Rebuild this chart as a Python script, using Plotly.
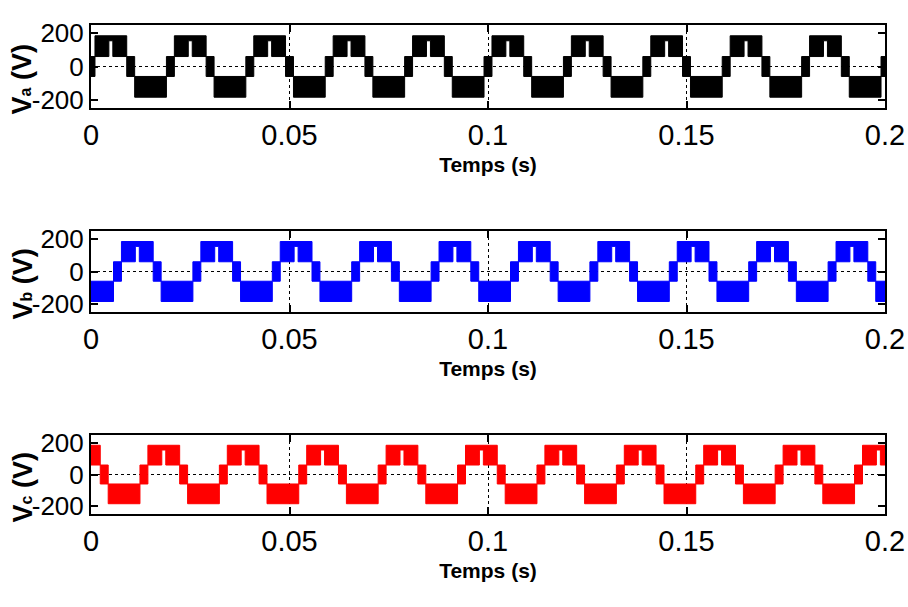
import plotly.graph_objects as go

# ---------------- data ----------------
PERIOD_S = 0.02          # one electrical cycle (50 Hz)
N_CYCLES = 10
T_END = 0.2

# one cycle of the phase-a PWM envelope (times in ms from cycle start, volts)
cycle_edges_ms = [0.0, 1.0, 4.5, 5.5, 9.0, 11.0, 19.0, 20.0]
cycle_upper_v = [60, 185, 185, 185, 60, -60, 60]
cycle_lower_v = [-60, 60, 155, 60, -60, -185, -60]

phase_names = ["a", "b", "c"]
phase_shift_ms = [0.0, 6.667, -6.667]
phase_colors = ["#000000", "#0000ff", "#ff0000"]

x_tick_vals = [0, 0.05, 0.1, 0.15, 0.2]
x_tick_text = ["0", "0.05", "0.1", "0.15", "0.2"]
y_tick_vals = [-200, 0, 200]
y_tick_text = ["-200", "0", "200"]
y_range = [-250, 250]
x_title = "Temps (s)"

# ---------------- layout geometry ----------------
W, H = 908, 607
ML, MR, MT, MB = 91, 23, 25, 93
plot_h = H - MT - MB
row_px = [(25, 108), (231, 312), (435, 514)]  # top, bottom in px


def dom(top, bot):
    return [max(0.0, (H - MB - bot) / plot_h), min(1.0, (H - MB - top) / plot_h)]


def envelope(shift_ms):
    segs = []
    for k in range(-1, N_CYCLES + 2):
        base = k * PERIOD_S + shift_ms / 1000.0
        for i in range(len(cycle_upper_v)):
            t0 = base + cycle_edges_ms[i] / 1000.0
            t1 = base + cycle_edges_ms[i + 1] / 1000.0
            a, b = max(t0, 0.0), min(t1, T_END)
            if b > a:
                segs.append((a, b, cycle_lower_v[i], cycle_upper_v[i]))
    segs.sort()
    xs, ys = [], []
    for a, b, lo, hi in segs:
        xs += [a, b]
        ys += [hi, hi]
    for a, b, lo, hi in reversed(segs):
        xs += [b, a]
        ys += [lo, lo]
    xs.append(xs[0])
    ys.append(ys[0])
    return xs, ys


fig = go.Figure()
FONT = "Liberation Sans, Arial, sans-serif"

for i, (name, sh, col) in enumerate(zip(phase_names, phase_shift_ms, phase_colors)):
    xs, ys = envelope(sh)
    sfx = "" if i == 0 else str(i + 1)
    fig.add_trace(go.Scatter(
        x=xs, y=ys, mode="lines", fill="toself", fillcolor=col,
        line=dict(color=col, width=1), xaxis="x" + sfx, yaxis="y" + sfx,
        showlegend=False, hoverinfo="skip"))
    top, bot = row_px[i]
    common = dict(showline=True, linecolor="black", linewidth=2, mirror="ticks",
                  ticks="inside", ticklen=7, tickwidth=1.5, tickcolor="black",
                  zeroline=False, automargin=False)
    fig.layout["xaxis" + sfx] = dict(
        common, domain=[0, 1], anchor="y" + sfx, range=[0, T_END],
        tickvals=x_tick_vals, ticktext=x_tick_text,
        tickfont=dict(family=FONT, size=29, color="black"),
        showgrid=True, gridcolor="black", griddash="dot", gridwidth=1,
        title=dict(text="<b>" + x_title + "</b>", standoff=8,
                   font=dict(family=FONT, size=21, color="black")))
    fig.layout["yaxis" + sfx] = dict(
        common, domain=dom(top, bot), anchor="x" + sfx, range=y_range,
        tickvals=y_tick_vals, ticktext=y_tick_text,
        tickfont=dict(family=FONT, size=26, color="black"),
        showgrid=False)
    fig.add_shape(type="line", xref="x" + sfx + " domain", yref="y" + sfx,
                  x0=0, x1=1, y0=0, y1=0, layer="below",
                  line=dict(color="black", width=1, dash="dot"))
    fig.add_annotation(
        text="<b>V<span style='font-size:16px'>" + name + "</span> (V)</b>",
        textangle=-90,
        xref="paper", yref="paper", x=-69 / (W - ML - MR),
        y=(H - MB - ((top + bot) / 2 + 13)) / plot_h,
        xanchor="center", yanchor="middle", showarrow=False,
        font=dict(family=FONT, size=27, color="black"))

fig.update_layout(width=W, height=H, margin=dict(l=ML, r=MR, t=MT, b=MB),
                  plot_bgcolor="white", paper_bgcolor="white")
fig.write_html("out.html", config={"displayModeBar": False},
               post_script="document.body.style.margin='0';"
                           "document.body.style.overflow='hidden';")
